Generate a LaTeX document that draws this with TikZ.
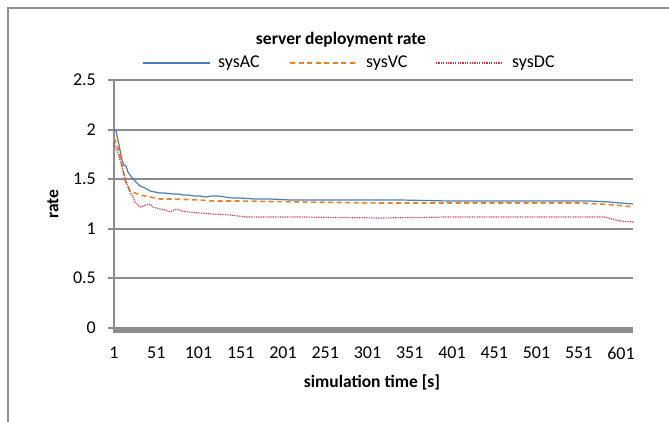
\documentclass[tikz,border=0pt]{standalone}
\usepackage{fontspec}
\setmainfont{Carlito}
\usetikzlibrary{positioning}
\definecolor{gridgray}{HTML}{8C8C8C}
\definecolor{framegray}{HTML}{909090}
\definecolor{acblue}{HTML}{4A7EBB}
\definecolor{vcorange}{HTML}{F0821E}
\definecolor{dcred}{HTML}{E0303A}
\begin{document}
\begin{tikzpicture}[x=1pt,y=-1pt,
    gridline/.style={draw=gridgray,line width=1.8pt},
    ticklbl/.style={inner sep=0pt,font=\fontsize{18}{21}\selectfont},
    boldlbl/.style={inner sep=0pt,font=\fontsize{17.5}{20}\selectfont\bfseries},
    acline/.style={draw=acblue,line width=1.2pt,line join=round},
    vcline/.style={draw=vcorange,line width=1.6pt,line join=round,dash pattern=on 5pt off 3.5pt},
    dcline/.style={draw=dcred,line width=1.2pt,line join=round,dash pattern=on 1.2pt off 1.2pt}]
    \useasboundingbox (0,0) rectangle (669,422);
    % outer frame
    \draw[draw=framegray,line width=1.8pt] (8,422) -- (8,8) -- (669,8);
    % title and legend
    \node[boldlbl] (title) at (341,40) {server deployment rate};
    \coordinate (acstart) at (143,63);
    \node[ticklbl,anchor=west] (aclabel) at (218,63) {sysAC};
    \coordinate (vcstart) at (290,63);
    \node[ticklbl,anchor=west] (vclabel) at (366,63) {sysVC};
    \coordinate (dcstart) at (436,63);
    \node[ticklbl,anchor=west] (dclabel) at (512,63) {sysDC};
    \draw[acline,shorten >=8pt] (acstart) -- (aclabel.west);
    \draw[vcline,shorten >=9pt] (vcstart) -- (vclabel.west);
    \draw[dcline,shorten >=9pt] (dcstart) -- (dclabel.west);
    % grid and y ticks
    \foreach \v/\y/\i in {2.5/80/5, 2/130/4, 1.5/179/3, 1/229/2, 0.5/278/1, 0/328/0} {
        \draw[gridline] (108,\y) -- (633,\y);
        \node[ticklbl,anchor=east] (ytick\i) at (96,\y) {\v};
    }
    \draw[gridline] (114,80) -- (114,333);
    \fill[gridgray] (114,327) rectangle (633,333);
    % x ticks
    \foreach \k in {0,...,12} {
        \pgfmathtruncatemacro{\lab}{1+50*\k}
        \node[ticklbl] (xtick\k) at (114+42.25*\k,353) {\lab};
    }
    \node[boldlbl] (xtitle) at (372,382) {simulation time [s]};
    \node[boldlbl,rotate=90] (ytitle) at (53,204) {rate};
    % data series
    \draw[acline] (114,130) -- (116,131) -- (118,140) -- (120,150) -- (122,160) -- (124,165) -- (126,166)
        -- (128,172) -- (130,175) -- (135,181) -- (140,186) -- (145,188) -- (150,191) -- (155,192)
        -- (160,193) -- (165,193) -- (172,194) -- (178,194) -- (183,195) -- (188,195) -- (195,196)
        -- (200,196) -- (205,197) -- (212,196) -- (218,196) -- (225,197) -- (232,198) -- (240,198)
        -- (255,199) -- (270,199) -- (290,200) -- (330,200) -- (370,200) -- (400,200) -- (450,201)
        -- (500,201) -- (550,201) -- (590,201) -- (610,202) -- (620,203) -- (633,204);
    \draw[vcline] (114,138) -- (115,140) -- (117,145) -- (119,152) -- (121,160) -- (123,170) -- (125,180)
        -- (127,184) -- (130,191) -- (135,193) -- (140,195) -- (150,197) -- (160,199) -- (172,199)
        -- (200,200) -- (213,201) -- (240,201) -- (300,202) -- (380,203) -- (450,203) -- (520,203)
        -- (580,203) -- (600,204) -- (615,205) -- (633,207);
    \draw[dcline] (114,143) -- (116,148) -- (118,153) -- (120,160) -- (122,167) -- (124,175) -- (126,182)
        -- (128,187) -- (130,192) -- (133,197) -- (135,202) -- (138,205) -- (140,207) -- (143,206)
        -- (146,205) -- (150,204) -- (153,207) -- (160,209) -- (165,210) -- (170,212) -- (174,210)
        -- (177,209) -- (182,211) -- (188,212) -- (200,213) -- (213,214) -- (230,215) -- (247,217)
        -- (300,217) -- (380,218) -- (450,217) -- (500,217) -- (550,217) -- (590,217) -- (605,217)
        -- (612,219) -- (620,221) -- (633,222);
\end{tikzpicture}
\end{document}
